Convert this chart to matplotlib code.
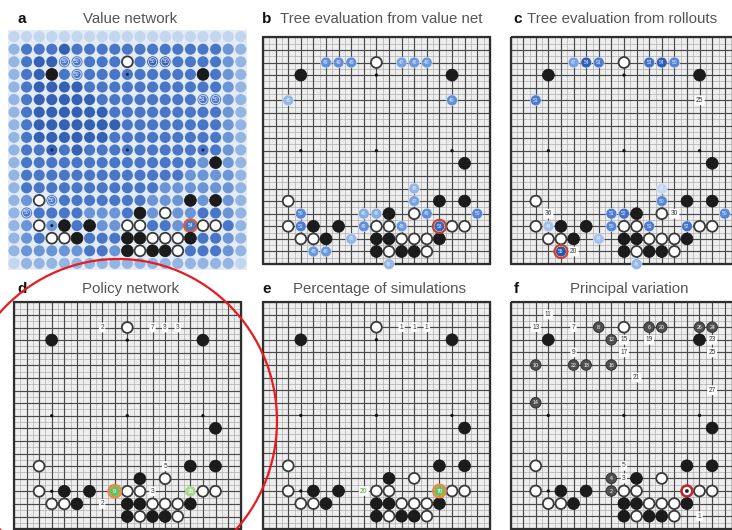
import matplotlib
matplotlib.use("Agg")
import matplotlib.pyplot as plt
from matplotlib.patches import Circle, Rectangle, Ellipse
from matplotlib.colors import LinearSegmentedColormap, Normalize

plt.rcParams['font.family'] = ['Liberation Sans', 'DejaVu Sans']

W, H = 732, 530
S = 12.6  # pixel spacing between board lines

# position on the board: (column, row), row 0 at the top
BLACK_STONES = [(3, 3), (15, 3), (16, 10), (14, 13), (16, 13), (10, 14), (4, 15), (6, 15),
                (5, 16), (9, 16), (10, 16), (14, 16), (9, 17), (11, 17), (12, 17)]
WHITE_STONES = [(9, 2), (2, 13), (12, 14), (2, 15), (9, 15), (10, 15), (15, 15), (16, 15),
                (3, 16), (4, 16), (11, 16), (12, 16), (13, 16), (10, 17), (13, 17)]
STAR_POINTS = [(3, 3), (9, 3), (15, 3), (3, 9), (9, 9), (15, 9), (3, 15), (9, 15), (15, 15)]

# a: value network shade level (1 light .. 5 dark) for every point
VALUE_GRID = [
    "1111111111111111111",
    "2444544444444444432",
    "2455444444455444432",
    "2454444444444444432",
    "2455554444444444432",
    "2455555444444444432",
    "2455555544444444432",
    "2455555554444444432",
    "2455555544444444432",
    "2445454444444444432",
    "2444444444444443432",
    "2444444444444433332",
    "2444444444443333332",
    "2344444444433333432",
    "2444443334434334432",
    "2343443334444334442",
    "2344444444444444432",
    "2333334433333344432",
    "1222222222222222221",
]
VALUE_LABELS = [(4, 2, "50"), (5, 2, "50"), (5, 3, "50"), (11, 2, "50"), (12, 2, "50"),
                (15, 5, "51"), (16, 5, "50"), (3, 13, "50"), (1, 14, "50")]
VALUE_BEST = (14, 15, "54")

# b: tree evaluation from value net
TREE_VALUE = [(5, 2, 49), (6, 2, 49), (7, 2, 49), (11, 2, 47), (12, 2, 48), (13, 2, 48),
              (2, 5, 45), (15, 5, 49), (12, 12, 45), (12, 13, 47), (3, 14, 50), (8, 14, 46),
              (9, 14, 46), (13, 14, 49), (17, 14, 50), (3, 15, 51), (8, 15, 49), (11, 15, 48),
              (7, 16, 45), (4, 17, 48), (5, 17, 48), (10, 18, 45)]
TREE_VALUE_BEST = (14, 15, 53)

# c: tree evaluation from rollouts
TREE_ROLL = [(5, 2, 47), (6, 2, 54), (7, 2, 51), (11, 2, 52), (12, 2, 54), (13, 2, 50),
             (2, 5, 51), (12, 12, 42), (12, 13, 50), (8, 14, 51), (9, 14, 52), (17, 14, 50),
             (3, 15, 44), (8, 15, 50), (11, 15, 51), (14, 15, 52), (7, 16, 44), (10, 18, 45)]
TREE_ROLL_BEST = (4, 17, 55)
TREE_ROLL_TAGS = [(15, 5, "25"), (3, 14, "36"), (13, 14, "30"), (5, 17, "20")]

# d: policy network
POLICY_TAGS = [(7, 2, "2"), (11, 2, "7"), (12, 2, "3"), (13, 2, "3"), (12, 13, "5"),
               (11, 15, "3"), (7, 16, "2")]
POLICY_TOP = [(8, 15, "9", True), (14, 15, "35", False)]

# e: percentage of simulations
SIM_TAGS = [(11, 2, "1"), (12, 2, "1"), (13, 2, "1")]
SIM_GREEN_TAGS = [(8, 15, "20")]
SIM_TOP = [(14, 15, "70", True)]

# f: principal variation
PV_BLACK = [(7, 2, "8"), (11, 2, "6"), (12, 2, "20"), (15, 2, "26"), (16, 2, "24"),
            (8, 3, "12"), (2, 5, "10"), (5, 5, "22"), (6, 5, "18"), (8, 5, "16"),
            (2, 8, "14"), (8, 14, "4"), (8, 15, "2")]
PV_WHITE = [(3, 1, "11"), (2, 2, "13"), (5, 2, "7"), (9, 3, "15"), (11, 3, "19"),
            (16, 3, "23"), (5, 4, "9"), (9, 4, "17"), (16, 4, "25"), (10, 6, "21"),
            (16, 7, "27"), (9, 13, "5"), (9, 14, "3"), (15, 17, "1")]
PV_FIRST = (14, 15)

LEVEL_COLORS = ['#c2d6ef', '#93b5e4', '#6a95d7', '#4876c8', '#3361b6']
blues = LinearSegmentedColormap.from_list('b', ['#c3d8f2', '#7fa9e3', '#4f7fd3', '#2c54a8'])
vnorm = Normalize(42, 55)

fig = plt.figure(figsize=(W / 100, H / 100), dpi=100)


def board_axes(col0, row0, grid=True):
    ax = fig.add_axes([(col0 - 0.5 * S) / W, 1 - (row0 + 18.5 * S) / H, 19 * S / W, 19 * S / H])
    ax.set_xlim(-0.5, 18.5)
    ax.set_ylim(18.5, -0.5)
    ax.axis('off')
    if grid:
        ax.add_patch(Rectangle((0, 0), 18, 18, fc='#eeeeee', ec='none', zorder=0))
        half = [i + 0.5 for i in range(18)]
        ax.vlines(half, 0, 18, color='#b0b0b0', lw=0.5, zorder=1)
        ax.hlines(half, 0, 18, color='#b0b0b0', lw=0.5, zorder=1)
        ax.vlines(range(19), 0, 18, color='#4a4a4a', lw=0.85, zorder=1)
        ax.hlines(range(19), 0, 18, color='#4a4a4a', lw=0.85, zorder=1)
        ax.add_patch(Rectangle((0, 0), 18, 18, fc='none', ec='#2e2e2e', lw=1.6, zorder=2))
        for c, r in STAR_POINTS:
            ax.add_patch(Circle((c, r), 0.13, fc='#111', ec='none', zorder=2))
    return ax


def draw_stones(ax):
    for c, r in BLACK_STONES:
        ax.add_patch(Circle((c, r), 0.47, fc='#1b1b1b', ec='#111', lw=0.5, zorder=5))
    for c, r in WHITE_STONES:
        ax.add_patch(Circle((c, r), 0.43, fc='white', ec='#3a3a3a', lw=1.3, zorder=5))


def tag(ax, c, r, text, color='#333333'):
    ax.text(c, r, text, ha='center', va='center', fontsize=4.8, color=color, zorder=7,
            bbox=dict(boxstyle='round,pad=0.2', fc='white', ec='none'))


def value_marker(ax, c, r, v, ring=False):
    ax.add_patch(Circle((c, r), 0.43, fc=blues(vnorm(v)), ec='#e8eef7', lw=0.4, zorder=5))
    ax.text(c, r, str(v), ha='center', va='center', fontsize=3.5, color='#e6eefa', zorder=6)
    if ring:
        ax.add_patch(Circle((c, r), 0.52, fc='none', ec='#c8402c', lw=1.5, zorder=6))


def green_marker(ax, c, r, text, ring):
    fc = '#6fbf5e' if ring else '#a9d895'
    ax.add_patch(Circle((c, r), 0.42, fc=fc, ec='none', zorder=5))
    ax.text(c, r, text, ha='center', va='center', fontsize=4, color='white', zorder=6)
    if ring:
        ax.add_patch(Circle((c, r), 0.5, fc='none', ec='#e58a4a', lw=1.6, zorder=6))


# ---- a: value network
ax_a = board_axes(14, 36.6, grid=False)
ax_a.add_patch(Rectangle((-0.6, -0.6), 19.2, 19.2, fc='#e4ebf4', ec='none', zorder=0))
stones = set(BLACK_STONES) | set(WHITE_STONES)
for r, row in enumerate(VALUE_GRID):
    for c, lev in enumerate(row):
        if (c, r) in stones:
            continue
        ax_a.add_patch(Circle((c, r), 0.44, fc=LEVEL_COLORS[int(lev) - 1], ec='none', zorder=3))
for c, r in STAR_POINTS:
    if (c, r) not in stones:
        ax_a.add_patch(Circle((c, r), 0.12, fc='#0f1f4a', ec='none', zorder=4))
for c, r, t in VALUE_LABELS:
    ax_a.add_patch(Circle((c, r), 0.33, fc='none', ec='#dfe8f5', lw=0.6, zorder=4))
    ax_a.text(c, r, t, ha='center', va='center', fontsize=3.5, color='white', zorder=4)
c, r, t = VALUE_BEST
ax_a.add_patch(Circle((c, r), 0.5, fc='#4a76c8', ec='#d9603c', lw=1.6, zorder=4))
ax_a.text(c, r, t, ha='center', va='center', fontsize=3.5, color='white', zorder=4)
draw_stones(ax_a)

# ---- b: tree evaluation from value net
ax_b = board_axes(263, 37.3)
draw_stones(ax_b)
for c, r, v in TREE_VALUE:
    value_marker(ax_b, c, r, v)
value_marker(ax_b, *TREE_VALUE_BEST, ring=True)

# ---- c: tree evaluation from rollouts
ax_c = board_axes(510.6, 37.3)
draw_stones(ax_c)
for c, r, v in TREE_ROLL:
    value_marker(ax_c, c, r, v)
value_marker(ax_c, *TREE_ROLL_BEST, ring=True)
for c, r, t in TREE_ROLL_TAGS:
    tag(ax_c, c, r, t)

# ---- d: policy network
ax_d = board_axes(13.9, 302.3)
draw_stones(ax_d)
for c, r, t in POLICY_TAGS:
    tag(ax_d, c, r, t)
for c, r, t, ring in POLICY_TOP:
    green_marker(ax_d, c, r, t, ring)

# ---- e: percentage of simulations
ax_e = board_axes(263, 302)
draw_stones(ax_e)
for c, r, t in SIM_TAGS:
    tag(ax_e, c, r, t)
for c, r, t in SIM_GREEN_TAGS:
    tag(ax_e, c, r, t, color='#4e9a3e')
for c, r, t, ring in SIM_TOP:
    green_marker(ax_e, c, r, t, ring)

# ---- f: principal variation
ax_f = board_axes(510.5, 302)
draw_stones(ax_f)
for c, r, t in PV_BLACK:
    ax_f.add_patch(Circle((c, r), 0.42, fc='#505050', ec='#2a2a2a', lw=0.6, zorder=5))
    ax_f.text(c, r, t, ha='center', va='center', fontsize=3.8, color='white', zorder=6)
for c, r, t in PV_WHITE:
    tag(ax_f, c, r, t)
ax_f.add_patch(Circle(PV_FIRST, 0.43, fc='white', ec='#c0232b', lw=1.8, zorder=6))
ax_f.add_patch(Circle(PV_FIRST, 0.15, fc='#222', ec='none', zorder=7))

# ---- titles
titles = [
    ("a", 22, 23, "Value network", 130, "center"),
    ("b", 267, 23, "Tree evaluation from value net", 280, "left"),
    ("c", 518, 23, "Tree evaluation from rollouts", 527, "left"),
    ("d", 22, 293, "Policy network", 130, "center"),
    ("e", 267, 293, "Percentage of simulations", 293, "left"),
    ("f", 516, 293, "Principal variation", 629.5, "center"),
]
for letter, lx, by, title, tx, ha in titles:
    fig.text(lx / W, 1 - by / H, letter, ha='center', va='baseline', fontsize=11,
             fontweight='bold', color='#111')
    fig.text(tx / W, 1 - by / H, title, ha=ha, va='baseline', fontsize=10.8, color='#555555')

# ---- red hand-drawn ellipse
overlay = fig.add_axes([0, 0, 1, 1], zorder=10)
overlay.set_xlim(0, W)
overlay.set_ylim(H, 0)
overlay.axis('off')
overlay.patch.set_alpha(0)
overlay.add_patch(Ellipse((118, 421), 318, 324, fc='none', ec='#e81b1f', lw=1.6))

fig.savefig("out.png", dpi=100)
